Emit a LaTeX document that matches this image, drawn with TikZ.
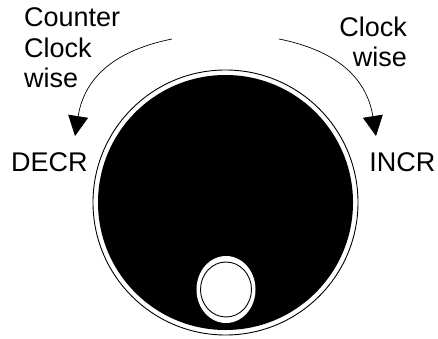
\documentclass[tikz,border=0pt]{standalone}
\usepackage{fontspec}
\setmainfont{Liberation Sans}
\usetikzlibrary{arrows.meta}
\tikzset{
  lbl/.style={font=\fontsize{27}{30.5}\selectfont, inner sep=0pt},
  turn/.style={line width=0.7pt, -{Triangle[width=20pt,length=20pt]}},
  rim/.style={line width=0.9pt},
}
\begin{document}
\begin{tikzpicture}[x=1pt,y=-1pt]
\useasboundingbox (0,0) rectangle (438,339);
% knob
\node[circle, draw, rim, minimum size=265pt, inner sep=0pt] (rim) at (225.5,202.5) {};
\node[circle, fill=black, minimum size=255pt, inner sep=0pt] (knob) at (225.5,202.5) {};
\fill[white] (226,289.5) ellipse[x radius=29.5, y radius=33.5];
\draw[rim] (226,289.5) ellipse[x radius=25.5, y radius=27.5];
\coordinate (dimple) at (226,289.5);
% labels
\node[lbl, align=left, anchor=base west] (ccw) at (24,88) {Counter\\Clock\\wise};
\node[lbl, align=right, anchor=base east] (cw) at (407,67) {Clock\\wise};
\node[lbl, anchor=base west] (decr) at (11,171) {DECR};
\node[lbl, anchor=base east] (incr) at (435.5,171) {INCR};
% arrows
\coordinate (ls) at (172,39);
\coordinate (le) at (75,136);
\coordinate (rs) at (279,39);
\coordinate (re) at (376,136);
\draw[turn] (ls) .. controls (117,50) and (84.6,76) .. (le);
\draw[turn] (rs) .. controls (334,50) and (366.4,76) .. (re);
\end{tikzpicture}
\end{document}
